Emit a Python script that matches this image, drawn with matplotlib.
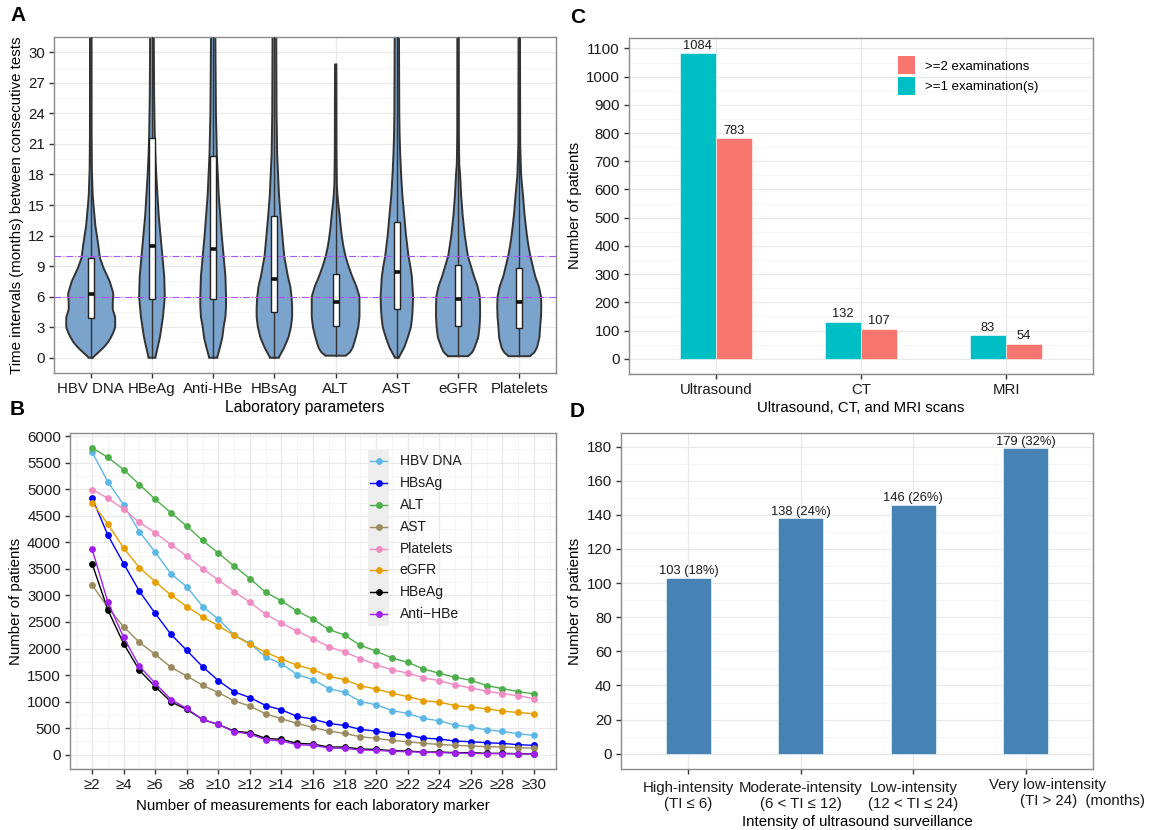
import numpy as np
import matplotlib
matplotlib.use('Agg')
import matplotlib.pyplot as plt
from matplotlib.patches import Patch, Rectangle
from matplotlib.ticker import MultipleLocator
import matplotlib.transforms as mtransforms

plt.rcParams['font.family'] = ['Liberation Sans', 'DejaVu Sans']

# ---------------- Panel A: violin outlines ----------------
markers_a = ['HBV DNA', 'HBeAg', 'Anti-HBe', 'HBsAg', 'ALT', 'AST', 'eGFR', 'Platelets']

hbvdna_y = [0, 0.5, 1, 1.5, 2, 2.5, 3, 4, 4.7, 5.5, 6.3, 7.5, 8.8, 9.8, 11, 12, 13, 15, 16, 18.5, 22, 32]
hbvdna_w = [0.03, 0.12, 0.21, 0.28, 0.33, 0.37, 0.40, 0.40, 0.36, 0.36, 0.37, 0.31, 0.21, 0.15, 0.125,
            0.10, 0.075, 0.045, 0.032, 0.018, 0.013, 0.012]
hbeag_y = [0, 2, 4, 6, 8, 10, 12, 14, 16, 18, 20, 22, 26, 32]
hbeag_w = [0.055, 0.13, 0.18, 0.21, 0.20, 0.17, 0.14, 0.11, 0.09, 0.07, 0.055, 0.045, 0.035, 0.03]
antihbe_y = [0, 1, 2, 3, 4, 5, 6, 8, 10, 12, 14, 16, 18, 20, 24, 32]
antihbe_w = [0.065, 0.11, 0.15, 0.17, 0.20, 0.21, 0.21, 0.20, 0.17, 0.14, 0.115, 0.09, 0.075, 0.06, 0.045, 0.035]
hbsag_y = [0, 1, 2, 3, 4, 5, 6, 7, 8, 9, 10, 12, 14, 16, 18, 20, 24, 32]
hbsag_w = [0.07, 0.16, 0.23, 0.27, 0.29, 0.29, 0.28, 0.26, 0.22, 0.19, 0.16, 0.13, 0.10, 0.075, 0.06,
           0.045, 0.035, 0.03]
alt_y = [0.2, 0.5, 1, 2, 3, 4, 5, 6, 7, 8, 9, 10, 11, 12, 13, 14, 15, 16, 17, 20, 28.8]
alt_w = [0.16, 0.23, 0.28, 0.33, 0.37, 0.39, 0.39, 0.39, 0.34, 0.27, 0.21, 0.16, 0.125, 0.10, 0.08,
         0.065, 0.045, 0.03, 0.02, 0.013, 0.01]
ast_y = [0, 1, 2, 3, 4, 5, 6, 7, 8, 9, 10, 12, 14, 16, 18, 20, 22, 24, 32]
ast_w = [0.03, 0.12, 0.18, 0.23, 0.25, 0.26, 0.265, 0.255, 0.245, 0.22, 0.19, 0.15, 0.12, 0.09, 0.07,
         0.055, 0.045, 0.04, 0.035]
egfr_y = [0.15, 0.5, 1, 2, 3, 4, 5, 6, 7, 8, 9, 10, 11, 12, 14, 16, 18, 19, 22, 32]
egfr_w = [0.16, 0.23, 0.27, 0.33, 0.35, 0.36, 0.36, 0.355, 0.32, 0.26, 0.21, 0.16, 0.135, 0.11, 0.075,
          0.05, 0.033, 0.02, 0.013, 0.012]
plt_y = [0.15, 0.5, 1, 2, 3, 4, 5, 6, 7, 8, 9, 10, 11, 12, 14, 16, 17, 18, 21, 32]
plt_w = [0.17, 0.245, 0.29, 0.33, 0.34, 0.355, 0.36, 0.355, 0.32, 0.26, 0.22, 0.18, 0.15, 0.125, 0.087,
         0.06, 0.044, 0.03, 0.015, 0.012]

box_q1 = [3.9, 5.8, 5.8, 4.45, 3.15, 4.8, 3.1, 2.9]
box_med = [6.3, 11.0, 10.7, 7.7, 5.5, 8.45, 5.8, 5.5]
box_q3 = [9.8, 21.6, 19.8, 13.9, 8.2, 13.3, 9.1, 8.8]
ref_lines = [6, 10]

# ---------------- Panel B ----------------
n_meas = list(range(2, 31))
b_hbvdna = [5701, 5138, 4706, 4199, 3817, 3404, 3166, 2791, 2553, 2259, 2096, 1840, 1715, 1508, 1414,
            1245, 1176, 1001, 939, 832, 776, 682, 638, 557, 519, 469, 438, 394, 363]
b_hbsag = [4837, 4136, 3598, 3079, 2660, 2265, 1965, 1658, 1395, 1183, 1076, 926, 845, 720, 670,
           588, 551, 476, 444, 394, 369, 313, 294, 257, 244, 225, 213, 188, 175]
b_alt = [5782, 5600, 5369, 5088, 4812, 4556, 4305, 4036, 3798, 3554, 3317, 3060, 2897, 2703, 2553,
         2359, 2253, 2059, 1952, 1821, 1740, 1615, 1533, 1458, 1402, 1302, 1245, 1189, 1145]
b_ast = [3198, 2772, 2409, 2115, 1890, 1646, 1483, 1308, 1170, 1014, 914, 770, 676, 588, 513,
         444, 400, 338, 307, 269, 244, 213, 194, 175, 163, 150, 144, 131, 125]
b_platelets = [4994, 4831, 4625, 4374, 4180, 3955, 3742, 3504, 3292, 3073, 2872, 2647, 2478, 2328, 2184,
               2034, 1934, 1808, 1696, 1596, 1539, 1446, 1395, 1314, 1258, 1195, 1151, 1108, 1058]
b_egfr = [4750, 4343, 3892, 3523, 3260, 3004, 2791, 2597, 2428, 2247, 2084, 1927, 1802, 1683, 1602,
          1477, 1414, 1295, 1239, 1158, 1095, 1020, 989, 926, 895, 864, 820, 795, 770]
b_hbeag = [3598, 2728, 2090, 1589, 1283, 995, 851, 663, 569, 444, 413, 307, 288, 213, 200,
           144, 144, 106, 100, 75, 69, 50, 50, 38, 38, 25, 25, 19, 19]
b_antihbe = [3874, 2872, 2209, 1665, 1345, 1039, 870, 663, 569, 432, 388, 282, 257, 188, 175,
             125, 119, 88, 81, 63, 56, 44, 38, 31, 25, 19, 19, 13, 13]
b_names = ['HBV DNA', 'HBsAg', 'ALT', 'AST', 'Platelets', 'eGFR', 'HBeAg', 'Anti\u2212HBe']
b_colors = ['#5DB7E6', '#0000FF', '#4DAF4A', '#9A8A5E', '#F08BC3', '#E69F00', '#000000', '#A020F0']

# ---------------- Panel C ----------------
scan_types = ['Ultrasound', 'CT', 'MRI']
scan_one = [1084, 132, 83]
scan_two = [783, 107, 54]

# ---------------- Panel D ----------------
intensity_labels = ['High-intensity\n(TI \u2264 6)', 'Moderate-intensity\n(6 < TI \u2264 12)',
                    'Low-intensity\n(12 < TI \u2264 24)']
last_label = ['Very low-intensity', '(TI > 24)  (months)']
intensity_counts = [103, 138, 146, 179]
intensity_text = ['103 (18%)', '138 (24%)', '146 (26%)', '179 (32%)']

FS = 10.8
W, H = 1160, 830


def px_axes(fig, l, t, r, b):
    return fig.add_axes([l / W, 1 - b / H, (r - l) / W, (b - t) / H])


def theme_bw(ax):
    ax.set_facecolor('white')
    for s in ax.spines.values():
        s.set_color('#8a8a8a')
        s.set_linewidth(1.0)
    ax.grid(True, which='major', color='#E9E9E9', lw=0.9)
    ax.grid(True, which='minor', color='#F4F4F4', lw=0.6)
    ax.set_axisbelow(True)
    ax.tick_params(which='major', length=3.5, width=1.0, color='#333333',
                   labelsize=FS, labelcolor='#1a1a1a', pad=3)
    ax.tick_params(which='minor', length=0)


def smooth_profile(ys, ws, step=0.02, win=15):
    yy = np.arange(ys[0], ys[-1] + step / 2, step)
    ww = np.interp(yy, ys, ws)
    pad = np.pad(ww, win, mode='edge')
    ww = np.convolve(pad, np.ones(win) / win, mode='same')[win:-win]
    return yy, ww


fig = plt.figure(figsize=(11.6, 8.3), dpi=100)

# ======================= A =======================
axA = px_axes(fig, 54, 37, 556, 373)
theme_bw(axA)
profiles = [(hbvdna_y, hbvdna_w), (hbeag_y, hbeag_w), (antihbe_y, antihbe_w), (hbsag_y, hbsag_w),
            (alt_y, alt_w), (ast_y, ast_w), (egfr_y, egfr_w), (plt_y, plt_w)]
for i, (ys, ws) in enumerate(profiles):
    yy, ww = smooth_profile(ys, ws)
    xs = np.concatenate([i - ww, (i + ww)[::-1]])
    yv = np.concatenate([yy, yy[::-1]])
    axA.fill(xs, yv, facecolor='#7BA3CC', edgecolor='#333333', lw=1.4, zorder=2)
    axA.plot([i, i], [ys[0], ys[-1]], color='#333333', lw=1.0, zorder=3)
for y in ref_lines:
    axA.axhline(y, color='#A855F7', lw=0.8, ls='-.', zorder=4)
for i in range(len(markers_a)):
    axA.add_patch(Rectangle((i - 0.05, box_q1[i]), 0.1, box_q3[i] - box_q1[i], facecolor='white',
                            edgecolor='#222222', lw=1.0, zorder=5))
    axA.plot([i - 0.05, i + 0.05], [box_med[i]] * 2, color='#111111', lw=2.6, zorder=6,
             solid_capstyle='butt')
axA.set_xlim(-0.6, 7.6)
axA.set_ylim(-1.5, 31.5)
axA.set_xticks(range(len(markers_a)))
axA.set_xticklabels(markers_a)
axA.yaxis.set_major_locator(MultipleLocator(3))
axA.yaxis.set_minor_locator(MultipleLocator(1.5))
axA.set_xlabel('Laboratory parameters', fontsize=11.3, labelpad=3)
axA.set_ylabel('Time intervals (months) between consecutive tests', fontsize=FS, labelpad=3)

# ======================= B =======================
axB = px_axes(fig, 70, 433, 556, 769)
theme_bw(axB)
b_series = [b_hbvdna, b_hbsag, b_alt, b_ast, b_platelets, b_egfr, b_hbeag, b_antihbe]
for vals, c in zip(b_series, b_colors):
    axB.plot(n_meas, vals, color=c, lw=1.0, marker='o', ms=3.9, zorder=3)
axB.set_xlim(0.6, 31.4)
axB.set_ylim(-270, 6060)
axB.set_xticks(range(2, 31, 2))
axB.set_xticklabels(['\u2265%d' % v for v in range(2, 31, 2)])
axB.xaxis.set_minor_locator(MultipleLocator(1))
axB.yaxis.set_major_locator(MultipleLocator(500))
axB.yaxis.set_minor_locator(MultipleLocator(250))
axB.set_xlabel('Number of measurements for each laboratory marker', fontsize=FS, labelpad=5)
axB.set_ylabel('Number of patients', fontsize=FS, labelpad=3)
# legend with grey key strip
axB.add_patch(Rectangle((0.613, 0.425), 0.044, 0.525, transform=axB.transAxes,
                        facecolor='#EEEEEE', edgecolor='none', zorder=4))
for k, (name, c) in enumerate(zip(b_names, b_colors)):
    yk = 0.916 - k * 0.065
    axB.plot([0.618, 0.652], [yk, yk], transform=axB.transAxes, color=c, lw=1.0, zorder=5)
    axB.plot([0.635], [yk], transform=axB.transAxes, color=c, marker='o', ms=3.9, zorder=5)
    axB.text(0.678, yk, name, transform=axB.transAxes, fontsize=10, va='center', ha='left',
             color='#1a1a1a', zorder=5)

# ======================= C =======================
axC = px_axes(fig, 629, 37.7, 1093, 374)
theme_bw(axC)
xc = np.arange(len(scan_types))
teal, salmon = '#00BFC4', '#F8766D'
axC.bar(xc - 0.125, scan_one, width=0.25, color=teal, edgecolor='white', lw=0.4, zorder=3)
axC.bar(xc + 0.125, scan_two, width=0.25, color=salmon, edgecolor='white', lw=0.4, zorder=3)
for i in range(len(scan_types)):
    axC.text(xc[i] - 0.125, scan_one[i] + 4, str(scan_one[i]), ha='center', va='bottom', fontsize=9.3,
             color='#1a1a1a')
    axC.text(xc[i] + 0.125, scan_two[i] + 4, str(scan_two[i]), ha='center', va='bottom', fontsize=9.3,
             color='#1a1a1a')
axC.set_xlim(-0.6, 2.6)
axC.set_ylim(-54, 1138)
axC.set_xticks(xc)
axC.set_xticklabels(scan_types)
axC.yaxis.set_major_locator(MultipleLocator(100))
axC.yaxis.set_minor_locator(MultipleLocator(50))
axC.set_xlabel('Ultrasound, CT, and MRI scans', fontsize=FS, labelpad=3)
axC.set_ylabel('Number of patients', fontsize=FS, labelpad=3)
axC.legend([Patch(facecolor=salmon), Patch(facecolor=teal)],
           ['>=2 examinations', '>=1 examination(s)'], loc='upper left',
           bbox_to_anchor=(0.579, 0.945), frameon=False, fontsize=9.5, borderpad=0,
           borderaxespad=0, handlelength=1.3, handleheight=1.75, labelspacing=0.2, handletextpad=0.8)

# ======================= D =======================
axD = px_axes(fig, 621, 433, 1093, 769)
theme_bw(axD)
xd = np.arange(len(intensity_counts))
axD.bar(xd, intensity_counts, width=0.4, color='#4682B4', edgecolor='white', lw=0.4, zorder=3)
for i in range(len(xd)):
    axD.text(xd[i], intensity_counts[i] + 0.3, intensity_text[i], ha='center', va='bottom',
             fontsize=9.3, color='#1a1a1a')
axD.set_xlim(-0.6, 3.6)
axD.set_ylim(-8.95, 187.95)
axD.set_xticks(xd)
axD.set_xticklabels(intensity_labels + [''])
axD.tick_params(axis='x', pad=5)
axD.yaxis.set_major_locator(MultipleLocator(20))
axD.yaxis.set_minor_locator(MultipleLocator(10))
blend = mtransforms.blended_transform_factory(axD.transData, axD.transAxes)
t1 = mtransforms.offset_copy(blend, fig=fig, x=22, y=-8.5, units='dots')
t2 = mtransforms.offset_copy(blend, fig=fig, x=57, y=-25, units='dots')
axD.text(3, 0, last_label[0], transform=t1, ha='center', va='top', fontsize=FS, color='#1a1a1a')
axD.text(3, 0, last_label[1], transform=t2, ha='center', va='top', fontsize=FS, color='#1a1a1a')
axD.set_xlabel('Intensity of ultrasound surveillance', fontsize=FS, labelpad=3)
axD.set_ylabel('Number of patients', fontsize=FS, labelpad=3)

# panel letters
for letter, (px, py) in zip('ABCD', [(10, 6), (10, 400), (570, 8), (570, 402)]):
    fig.text(px / W, 1 - py / H, letter, fontsize=15, fontweight='bold', va='top', ha='left')

fig.savefig('out.png', dpi=100)
